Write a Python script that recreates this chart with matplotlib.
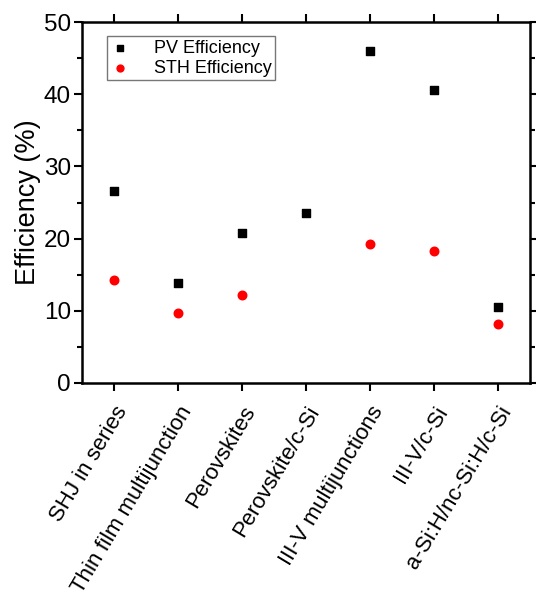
import matplotlib
matplotlib.use("Agg")
import matplotlib.pyplot as plt
from matplotlib.ticker import MultipleLocator

plt.rcParams['font.family'] = ['Liberation Sans', 'DejaVu Sans']

categories = ["SHJ in series", "Thin film multijunction", "Perovskites", "Perovskite/c-Si",
              "III-V multijunctions", "III-V/c-Si", "a-Si:H/nc-Si:H/c-Si"]
pv_eff = [26.6, 13.9, 20.8, 23.6, 46.0, 40.6, 10.5]
sth_cats = ["SHJ in series", "Thin film multijunction", "Perovskites",
            "III-V multijunctions", "III-V/c-Si", "a-Si:H/nc-Si:H/c-Si"]
sth_eff = [14.2, 9.7, 12.2, 19.3, 18.3, 8.2]

fig = plt.figure(figsize=(5.36, 6.0), dpi=100)
ax = fig.add_axes([0.153, 0.362, 0.836, 0.601])

xpos = list(range(len(categories)))
sth_x = [categories.index(c) for c in sth_cats]
ax.scatter(xpos, pv_eff, marker='s', s=28, color='black', label='PV Efficiency', zorder=3)
ax.scatter(sth_x, sth_eff, marker='o', s=38, color='#ff0000', label='STH Efficiency', zorder=3)

ax.set_xlim(-0.5, len(categories) - 0.5)
ax.set_ylim(0, 50)
ax.set_xticks(xpos)
ax.set_xticklabels(categories, rotation=59, ha='right', rotation_mode='anchor', fontsize=16)
ax.yaxis.set_major_locator(MultipleLocator(10))
ax.yaxis.set_minor_locator(MultipleLocator(5))
ax.tick_params(axis='y', which='major', direction='out', length=6, width=1.5, labelsize=17.5,
               right=True, pad=2)
ax.tick_params(axis='y', which='minor', direction='out', length=3.5, width=1.5, right=True)
ax.tick_params(axis='x', which='major', direction='out', length=6, width=1.5, top=True, pad=8)
for s in ax.spines.values():
    s.set_linewidth(1.8)
ax.set_ylabel('Efficiency (%)', fontsize=19.5, labelpad=2)

leg = ax.legend(loc='upper left', bbox_to_anchor=(0.056, 0.961), borderaxespad=0,
                fontsize=13, frameon=True, fancybox=False, edgecolor='#555555',
                handlelength=1.0, handletextpad=1.4, borderpad=0.2,
                labelspacing=0.15, markerscale=0.8)
leg.get_frame().set_linewidth(1.0)

fig.savefig('out.png', dpi=100)
